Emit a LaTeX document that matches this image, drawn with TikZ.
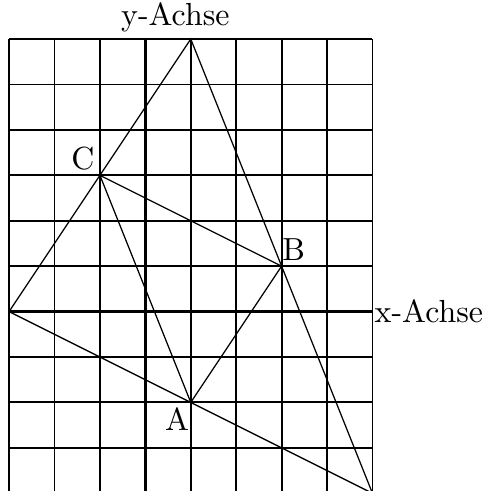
\documentclass[tikz,border=0pt]{standalone}
\begin{document}
\begin{tikzpicture}[x=0.5cm,y=0.5cm,
  gridline/.style={line width=0.6pt},
  axisline/.style={line width=1pt},
  triline/.style={line width=0.4pt},
  lab/.style={inner sep=1.5pt}]
\useasboundingbox (-3.2,-3.95) rectangle (7.46,6.86);
\foreach \i in {-3,...,5} \draw[gridline] (\i,-4) -- (\i,6);
\foreach \j in {-4,...,6} \draw[gridline] (-3,\j) -- (5,\j);
\draw[axisline] (-3,0) -- (5,0);
\draw[axisline] (0,-4) -- (0,6);
\coordinate (P) at (-3,0);
\coordinate (Q) at (1,6);
\coordinate (R) at (5,-4);
\coordinate (A) at (1,-2);
\coordinate (B) at (3,1);
\coordinate (C) at (-1,3);
\draw[triline] (P) -- (Q) -- (R) -- cycle;
\draw[triline] (A) -- (B) -- (C) -- cycle;
\node[lab, anchor=south east] (lc) at (C) {C};
\node[lab, inner xsep=0pt, anchor=south west] (lb) at (B) {B};
\node[lab, inner xsep=0.3pt, anchor=north east] (la) at (A) {A};
\node[anchor=west, inner sep=0.5pt] (xl) at (5,0) {x-Achse};
\node[anchor=south, inner sep=2pt] (yl) at (0.66,6) {y-Achse};
\end{tikzpicture}
\end{document}
